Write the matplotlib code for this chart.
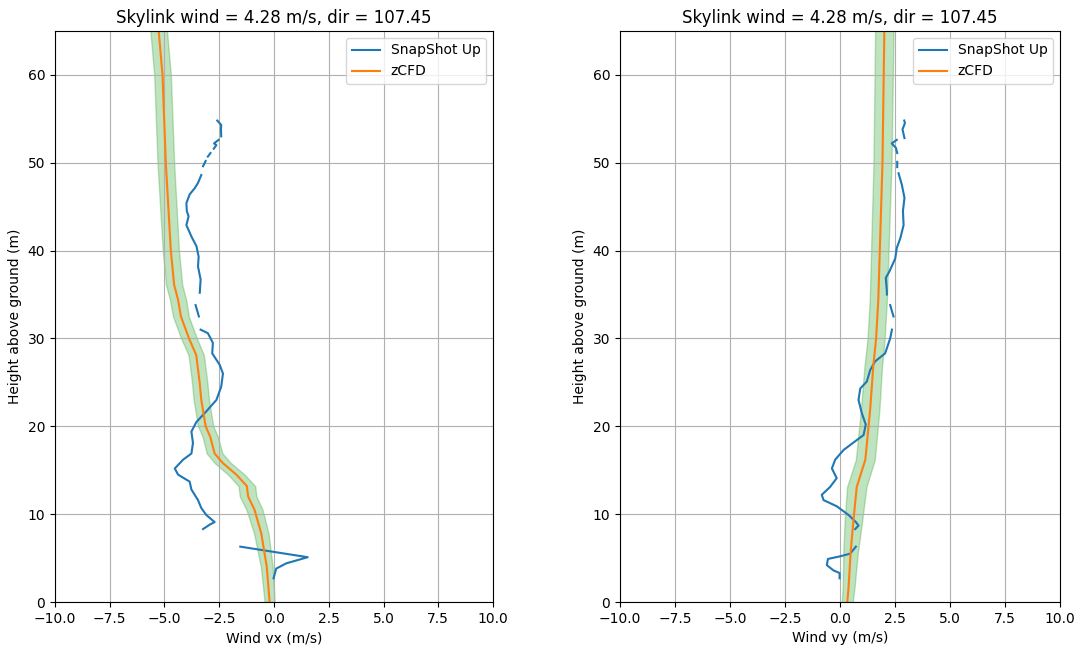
import numpy as np
import matplotlib
matplotlib.use("Agg")
import matplotlib.pyplot as plt

nan = np.nan

title = "Skylink wind = 4.28 m/s, dir = 107.45"

# zCFD profiles
cfd_h_x = [0, 4, 7.8, 10.5, 12.0, 13.2, 14.5, 15.8, 16.9, 18.8, 20.0, 23.0, 24.9, 28.1, 30, 32.5, 34.4, 36.1, 40, 50, 60, 66]
cfd_vx = [-0.20, -0.33, -0.58, -0.89, -1.18, -1.24, -1.72, -2.33, -2.71, -2.91, -3.12, -3.32, -3.39, -3.55, -3.88, -4.25, -4.38, -4.56, -4.71, -4.94, -5.09, -5.30]
band_x = [0.23, 0.27, 0.33, 0.37, 0.38, 0.38, 0.38, 0.37, 0.36, 0.35, 0.35, 0.35, 0.35, 0.35, 0.36, 0.36, 0.37, 0.37, 0.37, 0.38, 0.38, 0.38]

cfd_h_y = [0, 1.7, 5.6, 9.3, 13.1, 16.2, 21.9, 26.8, 30, 34.4, 50, 66]
cfd_vy = [0.33, 0.39, 0.48, 0.61, 0.76, 1.15, 1.37, 1.51, 1.64, 1.74, 1.93, 2.02]
band_y = [0.25, 0.27, 0.33, 0.40, 0.44, 0.43, 0.42, 0.40, 0.39, 0.39, 0.41, 0.42]

# SnapShot Up profiles (NaN marks gaps)
snap_h_x = [54.8, 54.3, 53.8, 53.0, nan,
            52.6, 52.2, 52.0, 51.6, nan, 51.1, 50.7, nan, 50.2, 49.6, nan,
            48.6, 47.7, 47.1, 46.4, 45.4, 44.5, 43.9, 42.9, 41.6, 40.5, 39.3, 38.2, 36.7, 35.2, nan,
            33.8, 32.5, nan,
            31.0, 30.6, 29.5, 28.3, 27.0, 26.0, 24.5, 23.0, 21.7, 20.5, 19.4, 18.1, 16.9, 16.2, 15.2, 14.5,
            13.7, 12.8, 11.6, 10.7, 9.9, 9.1, 8.8, 8.3, nan,
            6.3, 5.1, 4.4, 3.8, 2.7]
snap_vx = [-2.59, -2.41, -2.42, -2.41, nan,
           -2.53, -2.74, -2.63, -2.75, nan, -2.90, -3.02, nan, -3.12, -3.24, nan,
           -3.32, -3.47, -3.62, -3.85, -4.00, -3.98, -3.90, -4.00, -3.77, -3.54, -3.44, -3.47, -3.35, -3.39, nan,
           -3.58, -3.43, nan,
           -3.35, -3.02, -2.79, -2.82, -2.48, -2.33, -2.41, -2.63, -3.09, -3.54, -3.77, -3.70, -3.77, -4.15, -4.53, -4.38,
           -3.85, -3.77, -3.47, -3.32, -3.09, -2.71, -2.94, -3.24, nan,
           -1.54, 1.54, 0.56, 0.10, -0.02]

snap_h_y = [54.8, 54.5, 53.8, 52.8, nan,
            52.6, 52.2, 51.7, 51.1, nan, 50.1, 49.5, nan,
            48.8, 47.5, 46.0, 44.5, 42.9, 41.4, 40.3, 39.1, 37.6, 36.9, 35.3, 35.0, nan,
            33.8, 32.5, nan,
            31.0, 30.0, 28.3, 27.4, 26.4, 25.1, 24.3, 23.0, 21.5, 20.2, 19.0, 18.3, 17.3, 16.2, 15.2, 14.1,
            13.1, 12.2, 11.6, 10.9, 9.9, 9.1, 8.7, 8.3, nan,
            6.3, 5.5, 5.2, 4.9, 4.2, 3.6, 3.3, 2.7]
snap_vy = [2.92, 2.95, 2.84, 2.93, nan,
           2.58, 2.35, 2.54, 2.60, nan, 2.60, 2.60, nan,
           2.66, 2.81, 2.93, 2.86, 2.89, 2.74, 2.58, 2.51, 2.24, 2.08, 2.13, 2.13, nan,
           2.28, 2.43, nan,
           2.36, 2.28, 2.05, 1.60, 1.37, 1.22, 0.92, 0.84, 0.99, 1.17, 1.07, 0.69, 0.16, -0.22, -0.37, -0.15,
           -0.45, -0.83, -0.75, -0.15, 0.39, 0.72, 0.84, 0.69, nan,
           0.72, 0.46, 0.00, -0.55, -0.60, -0.30, -0.02, -0.02]

fig = plt.figure(figsize=(10.8, 6.46), dpi=100)
ax1 = fig.add_axes([0.0509, 0.0681, 0.4056, 0.884])
ax2 = fig.add_axes([0.5741, 0.0681, 0.4074, 0.884])

panels = [
    (ax1, snap_h_x, snap_vx, cfd_h_x, cfd_vx, band_x, "Wind vx (m/s)"),
    (ax2, snap_h_y, snap_vy, cfd_h_y, cfd_vy, band_y, "Wind vy (m/s)"),
]
for ax, sh, sv, ch, cv, bw, xl in panels:
    ch = np.array(ch); cv = np.array(cv); bw = np.array(bw)
    ax.plot(sv, sh, color="C0", lw=1.5, label="SnapShot Up")
    ax.plot(cv, ch, color="C1", lw=1.5, label="zCFD")
    ax.fill_betweenx(ch, cv - bw, cv + bw, color="C2", alpha=0.3)
    ax.set_xlim(-10, 10)
    ax.set_ylim(0, 65)
    ax.set_xticks(np.arange(-10, 10.1, 2.5))
    ax.grid(True)
    ax.set_xlabel(xl)
    ax.set_ylabel("Height above ground (m)")
    ax.set_title(title)
    ax.legend(loc="upper right")

fig.savefig("out.png", dpi=100)
